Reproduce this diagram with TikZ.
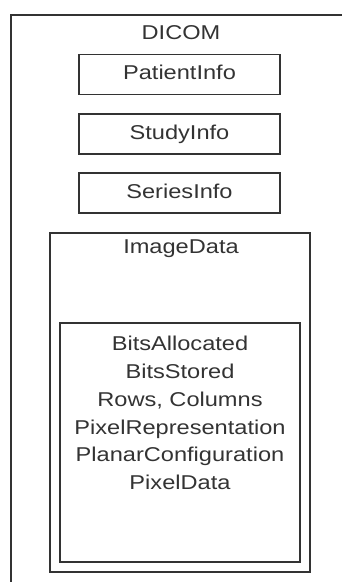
\documentclass[tikz,border=0pt]{standalone}
\usepackage{fontspec}
\setmainfont[FakeStretch=1.18]{Liberation Sans}
\begin{document}
\begin{tikzpicture}[
  x=1pt, y=-1pt,
  every node/.style={font=\fontsize{20}{27.8}\selectfont, text=black!80, align=center},
  frame/.style={draw=black!80, line width=1.6pt, rectangle, inner sep=0pt},
  infobox/.style={frame, minimum width=201pt, minimum height=40pt, text height=14pt, text depth=4pt},
  caption/.style={anchor=base, inner sep=0pt}
]
\useasboundingbox (0,0) rectangle (342,582);
\clip (0,0) rectangle (342,582);

% DICOM
\node[frame, minimum width=349pt, minimum height=585pt] (dicom) at (185.5,307.5) {};
\node[caption] (dicomlabel) at (181,39.5) {DICOM};

% info blocks
\node[infobox] (patient) at (179.5,74.5) {PatientInfo};
\node[infobox] (study) at (179.5,134) {StudyInfo};
\node[infobox] (series) at (179.5,193) {SeriesInfo};

% ImageData
\node[frame, minimum width=260pt, minimum height=339pt] (imagedata) at (180,402.5) {};
\node[caption] (imagelabel) at (181,253) {ImageData};
\node[frame, minimum width=240pt, minimum height=239pt] (pixelbox) at (180,442.5) {};
\node[anchor=north, inner sep=0pt] (pixeltext) at (180,336) {BitsAllocated\\BitsStored\\Rows, Columns\\PixelRepresentation\\PlanarConfiguration\\PixelData};

\end{tikzpicture}
\end{document}
